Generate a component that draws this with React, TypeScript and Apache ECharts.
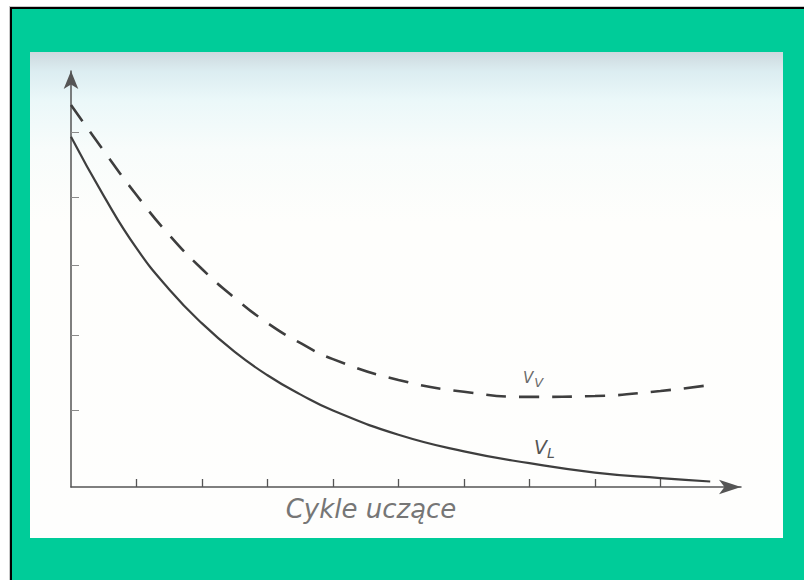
import React, { useEffect, useRef } from "react";
import * as echarts from "echarts";

// Learning cycles (x, in tick units) and the two error curves (relative units)
const cycles = [0, 0.5, 1, 1.5, 2, 2.5, 3, 3.5, 4, 5, 6, 7, 8, 9, 9.76];
const vL = [82.4, 68.5, 56.2, 46.5, 38.5, 31.8, 26.3, 21.8, 18.0, 12.3, 8.4, 5.6, 3.4, 2.1, 1.3];
const vV = [89.9, 79.1, 68.7, 59.3, 51.3, 44.5, 38.6, 33.9, 30.1, 25.2, 22.4, 21.2, 21.4, 22.6, 24.0];
const xTicks = [1, 2, 3, 4, 5, 6, 7, 8, 9];
const yTicks = [18.1, 35.8, 52.2, 68.2, 83.5];
const xTitle = "Cykle uczące";

export default function App() {
  const ref = useRef<HTMLDivElement>(null);
  useEffect(() => {
    if (!ref.current) return;
    const chart = echarts.init(ref.current, null, { renderer: "svg" });
    const ink = "#3e3e3e";
    const axisInk = "#555555";
    chart.setOption({
      animation: false,
      backgroundColor: "#ffffff",
      grid: { left: 71, right: 63, top: 71, bottom: 93 },
      xAxis: {
        type: "value",
        min: 0,
        max: 10.23,
        splitLine: { show: false },
        axisLabel: { show: false },
        axisLine: {
          show: true,
          symbol: ["none", "arrow"],
          symbolSize: [11, 22],
          lineStyle: { color: axisInk, width: 1.5 },
        },
        axisTick: {
          show: true,
          inside: true,
          length: 8,
          customValues: xTicks,
          lineStyle: { color: axisInk, width: 1.3 },
        },
      },
      yAxis: {
        type: "value",
        min: 0,
        max: 97.9,
        splitLine: { show: false },
        axisLabel: { show: false },
        axisLine: {
          show: true,
          symbol: ["none", "arrow"],
          symbolSize: [11, 18],
          lineStyle: { color: axisInk, width: 1.5 },
        },
        axisTick: {
          show: true,
          inside: true,
          length: 8,
          customValues: yTicks,
          lineStyle: { color: "#8a8a8a", width: 1 },
        },
      },
      series: [
        {
          name: "VL",
          type: "line",
          smooth: true,
          showSymbol: false,
          data: cycles.map((c, i) => [c, vL[i]]),
          lineStyle: { color: ink, width: 2.2 },
        },
        {
          name: "VV",
          type: "line",
          smooth: true,
          showSymbol: false,
          data: cycles.map((c, i) => [c, vV[i]]),
          lineStyle: { color: ink, width: 2.6, type: [20, 13] },
        },
      ],
      graphic: [
        { type: "rect", z: -10, shape: { x: 9, y: 6, width: 795, height: 574 }, style: { fill: "#c8c8c8" } },
        { type: "rect", z: -10, shape: { x: 10, y: 7, width: 794, height: 573 }, style: { fill: "#000000" } },
        { type: "rect", z: -10, shape: { x: 12, y: 9, width: 792, height: 571 }, style: { fill: "#00cc99" } },
        {
          type: "rect",
          z: -10,
          shape: { x: 30, y: 52, width: 753, height: 486 },
          style: {
            fill: new echarts.graphic.LinearGradient(0, 0, 0, 1, [
              { offset: 0, color: "#cdd9de" },
              { offset: 0.04, color: "#dcedf1" },
              { offset: 0.1, color: "#ebf8f9" },
              { offset: 0.2, color: "#f8fcfb" },
              { offset: 0.35, color: "#fefefc" },
              { offset: 1, color: "#fefefd" },
            ]),
          },
        },
        {
          type: "text",
          z: 10,
          x: 371,
          y: 509,
          style: {
            text: xTitle,
            fontFamily: "DejaVu Sans",
            fontStyle: "italic",
            fontSize: 26,
            fill: "#767676",
            align: "center",
            verticalAlign: "middle",
          },
        },
        {
          type: "text",
          z: 10,
          x: 523,
          y: 366,
          style: {
            text: "{a|V}{b|V}",
            rich: {
              a: { fontFamily: "DejaVu Sans", fontStyle: "italic", fontSize: 15, fill: "#6a6a6a" },
              b: { fontFamily: "DejaVu Sans", fontStyle: "italic", fontSize: 13, fill: "#6a6a6a", padding: [10, 0, 0, 1] },
            },
          },
        },
        {
          type: "text",
          z: 10,
          x: 534,
          y: 434,
          style: {
            text: "{a|V}{b|L}",
            rich: {
              a: { fontFamily: "DejaVu Sans", fontStyle: "italic", fontSize: 19, fill: "#555555" },
              b: { fontFamily: "DejaVu Sans", fontStyle: "italic", fontSize: 14, fill: "#555555", padding: [12, 0, 0, 0] },
            },
          },
        },
      ],
    });
    return () => chart.dispose();
  }, []);
  return (
    <div
      ref={ref}
      style={{ position: "absolute", left: 0, top: 0, width: 804, height: 580 }}
    />
  );
}
